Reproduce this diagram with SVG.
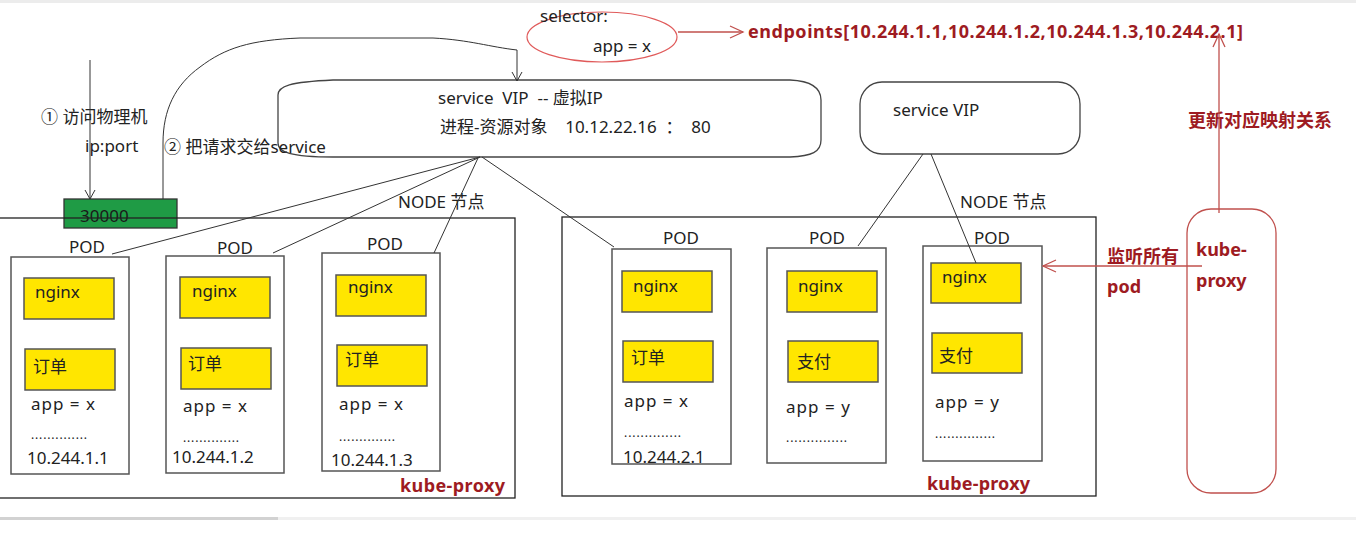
<svg xmlns="http://www.w3.org/2000/svg" width="1356" height="535" viewBox="0 0 1356 535">
<style>
.t{font-family:"Noto Sans","Noto Sans CJK SC",sans-serif;font-size:17px;fill:#222}
.b{font-family:"Noto Sans","Noto Sans CJK SC",sans-serif;font-weight:bold;font-size:18px;fill:#9e1b22}
.pod{fill:#fff;stroke:#555;stroke-width:1.5}
.box{fill:#ffe600;stroke:#555;stroke-width:1.5}
.frame{fill:none;stroke:#222;stroke-width:1.3}
.ln{fill:none;stroke:#333;stroke-width:1}
.rl{fill:none;stroke:#c0504d;stroke-width:1.3}
</style>
<defs>
<marker id="ab" markerWidth="12" markerHeight="12" refX="10" refY="6" orient="auto" markerUnits="userSpaceOnUse"><path d="M1,1 L10,6 L1,11" fill="none" stroke="#333" stroke-width="1"/></marker>
<marker id="ar" markerWidth="16" markerHeight="14" refX="14" refY="7" orient="auto" markerUnits="userSpaceOnUse"><path d="M1,1 L14,7 L1,13" fill="none" stroke="#c0504d" stroke-width="1.3"/></marker>
</defs>
<rect x="0" y="0" width="1356" height="535" fill="#fff"/>
<rect x="0" y="0" width="1356" height="3" fill="#ececec"/>
<rect x="0" y="517" width="1356" height="3" fill="#f0f0f0"/>
<rect x="0" y="517" width="278" height="3" fill="#d2d2d2"/>

<g id="port30000">
<rect x="64" y="199" width="113" height="29" fill="#1f9b45" stroke="#333" stroke-width="1.3"/>
<text class="t" x="80" y="222" style="fill:#1a1a1a">30000</text>
</g>

<g id="node-left">
<rect class="frame" x="-2" y="218" width="517" height="280"/>
<text class="t" x="398" y="208">NODE 节点</text>
<text class="b" x="400" y="492" textLength="105">kube-proxy</text>
</g>

<g id="node-right">
<rect class="frame" x="562" y="217" width="534" height="279"/>
<text class="t" x="960" y="208">NODE 节点</text>
<text class="b" x="927" y="490" textLength="103">kube-proxy</text>
</g>

<g id="pod1">
<text class="t" x="69" y="253">POD</text>
<rect class="pod" x="11" y="257" width="118" height="217"/>
<rect class="box" x="24" y="278" width="90" height="41"/>
<text class="t" x="35" y="298">nginx</text>
<rect class="box" x="25" y="349" width="90" height="41"/>
<text class="t" x="33" y="373">订单</text>
<text class="t" x="31" y="410" textLength="64">app = x</text>
<text class="t" x="31" y="439" textLength="56" style="font-size:12px">..............</text>
<text class="t" x="27" y="464">10.244.1.1</text>
</g>

<g id="pod2">
<text class="t" x="217" y="254">POD</text>
<rect class="pod" x="166" y="256" width="118" height="217"/>
<rect class="box" x="180" y="277" width="90" height="41"/>
<text class="t" x="192" y="297">nginx</text>
<rect class="box" x="181" y="348" width="90" height="41"/>
<text class="t" x="188" y="370">订单</text>
<text class="t" x="183" y="412" textLength="64">app = x</text>
<text class="t" x="183" y="442" textLength="56" style="font-size:12px">..............</text>
<text class="t" x="172" y="463">10.244.1.2</text>
</g>

<g id="pod3">
<text class="t" x="367" y="250">POD</text>
<rect class="pod" x="322" y="253" width="118" height="218"/>
<rect class="box" x="336" y="275" width="90" height="41"/>
<text class="t" x="348" y="293">nginx</text>
<rect class="box" x="337" y="345" width="90" height="41"/>
<text class="t" x="345" y="366">订单</text>
<text class="t" x="339" y="410" textLength="64">app = x</text>
<text class="t" x="339" y="441" textLength="56" style="font-size:12px">..............</text>
<text class="t" x="331" y="466">10.244.1.3</text>
</g>

<g id="pod4">
<text class="t" x="663" y="244">POD</text>
<rect class="pod" x="612" y="249" width="119" height="215"/>
<rect class="box" x="622" y="271" width="90" height="41"/>
<text class="t" x="633" y="292">nginx</text>
<rect class="box" x="623" y="341" width="90" height="41"/>
<text class="t" x="631" y="364">订单</text>
<text class="t" x="624" y="407" textLength="64">app = x</text>
<text class="t" x="624" y="437" textLength="57" style="font-size:12px">..............</text>
<text class="t" x="623" y="463">10.244.2.1</text>
</g>

<g id="pod5">
<text class="t" x="809" y="244">POD</text>
<rect class="pod" x="767" y="248" width="119" height="215"/>
<rect class="box" x="787" y="271" width="90" height="41"/>
<text class="t" x="798" y="292">nginx</text>
<rect class="box" x="788" y="341" width="90" height="41"/>
<text class="t" x="797" y="368">支付</text>
<text class="t" x="786" y="413" textLength="64">app = y</text>
<text class="t" x="786" y="442" textLength="61" style="font-size:12px">...............</text>
</g>

<g id="pod6">
<text class="t" x="974" y="244">POD</text>
<rect class="pod" x="923" y="246" width="119" height="215"/>
<rect class="box" x="931" y="263" width="90" height="40"/>
<text class="t" x="942" y="283">nginx</text>
<rect class="box" x="932" y="333" width="90" height="40"/>
<text class="t" x="939" y="362">支付</text>
<text class="t" x="935" y="408" textLength="64">app = y</text>
<text class="t" x="935" y="438" textLength="60" style="font-size:12px">...............</text>
</g>

<g id="service-main">
<path class="ln" style="stroke:#444;stroke-width:1.3" d="M278,95 C278,86 290,82 333,80 L790,80 C812,81 821,88 821,100 L821,140 C821,152 812,156 790,157 L333,157 C290,157 278,152 278,143 Z"/>
<text class="t" x="438" y="104" xml:space="preserve">service  VIP  -- 虚拟IP</text>
<text class="t" x="440" y="133" xml:space="preserve">进程-资源对象    10.12.22.16  ：  80</text>
</g>

<g id="service-right">
<rect x="860" y="82" width="220" height="72" rx="22" fill="#fff" stroke="#444" stroke-width="1.3"/>
<text class="t" x="893" y="116">service VIP</text>
</g>

<g id="selector">
<ellipse cx="602" cy="37" rx="75" ry="25" fill="none" stroke="#e05a5a" stroke-width="1.2"/>
<text class="t" x="540" y="22">selector:</text>
<text class="t" x="593" y="52">app = x</text>
</g>

<g id="endpoints">
<text class="b" x="748" y="38" textLength="495">endpoints[10.244.1.1,10.244.1.2,10.244.1.3,10.244.2.1]</text>
</g>

<g id="kube-proxy-main">
<rect x="1187" y="209" width="89" height="284" rx="24" fill="none" stroke="#c0504d" stroke-width="1.3"/>
<text class="b" x="1196" y="256">kube-</text>
<text class="b" x="1196" y="287">proxy</text>
</g>

<g id="labels">
<text class="t" x="41" y="123">① 访问物理机</text>
<text class="t" x="85" y="152">ip:port</text>
<text class="t" x="164" y="153">② 把请求交给service</text>
<text class="b" x="1188" y="127">更新对应映射关系</text>
<text class="b" x="1107" y="263">监听所有</text>
<text class="b" x="1107" y="293">pod</text>
</g>

<g id="connectors">
<line class="ln" x1="480" y1="157" x2="112" y2="254"/>
<line class="ln" x1="480" y1="157" x2="273" y2="253"/>
<line class="ln" x1="478" y1="158" x2="434" y2="253"/>
<line class="ln" x1="482" y1="157" x2="614" y2="247"/>
<line class="ln" x1="923" y1="154" x2="858" y2="246"/>
<line class="ln" x1="931" y1="154" x2="976" y2="263"/>
<line class="ln" x1="90" y1="60" x2="90" y2="199" marker-end="url(#ab)"/>
<path class="ln" d="M163,199 L163,143 C163,110 175,85 200,67 C225,48 250,40 300,38 L433,38 C470,40 490,47 517,50 L517,81" marker-end="url(#ab)"/>
<line class="rl" x1="678" y1="32" x2="743" y2="32" marker-end="url(#ar)"/>
<line class="rl" x1="1219" y1="213" x2="1219" y2="34" marker-end="url(#ar)"/>
<line class="rl" x1="1202" y1="266" x2="1043" y2="266" marker-end="url(#ar)"/>
</g>
</svg>
